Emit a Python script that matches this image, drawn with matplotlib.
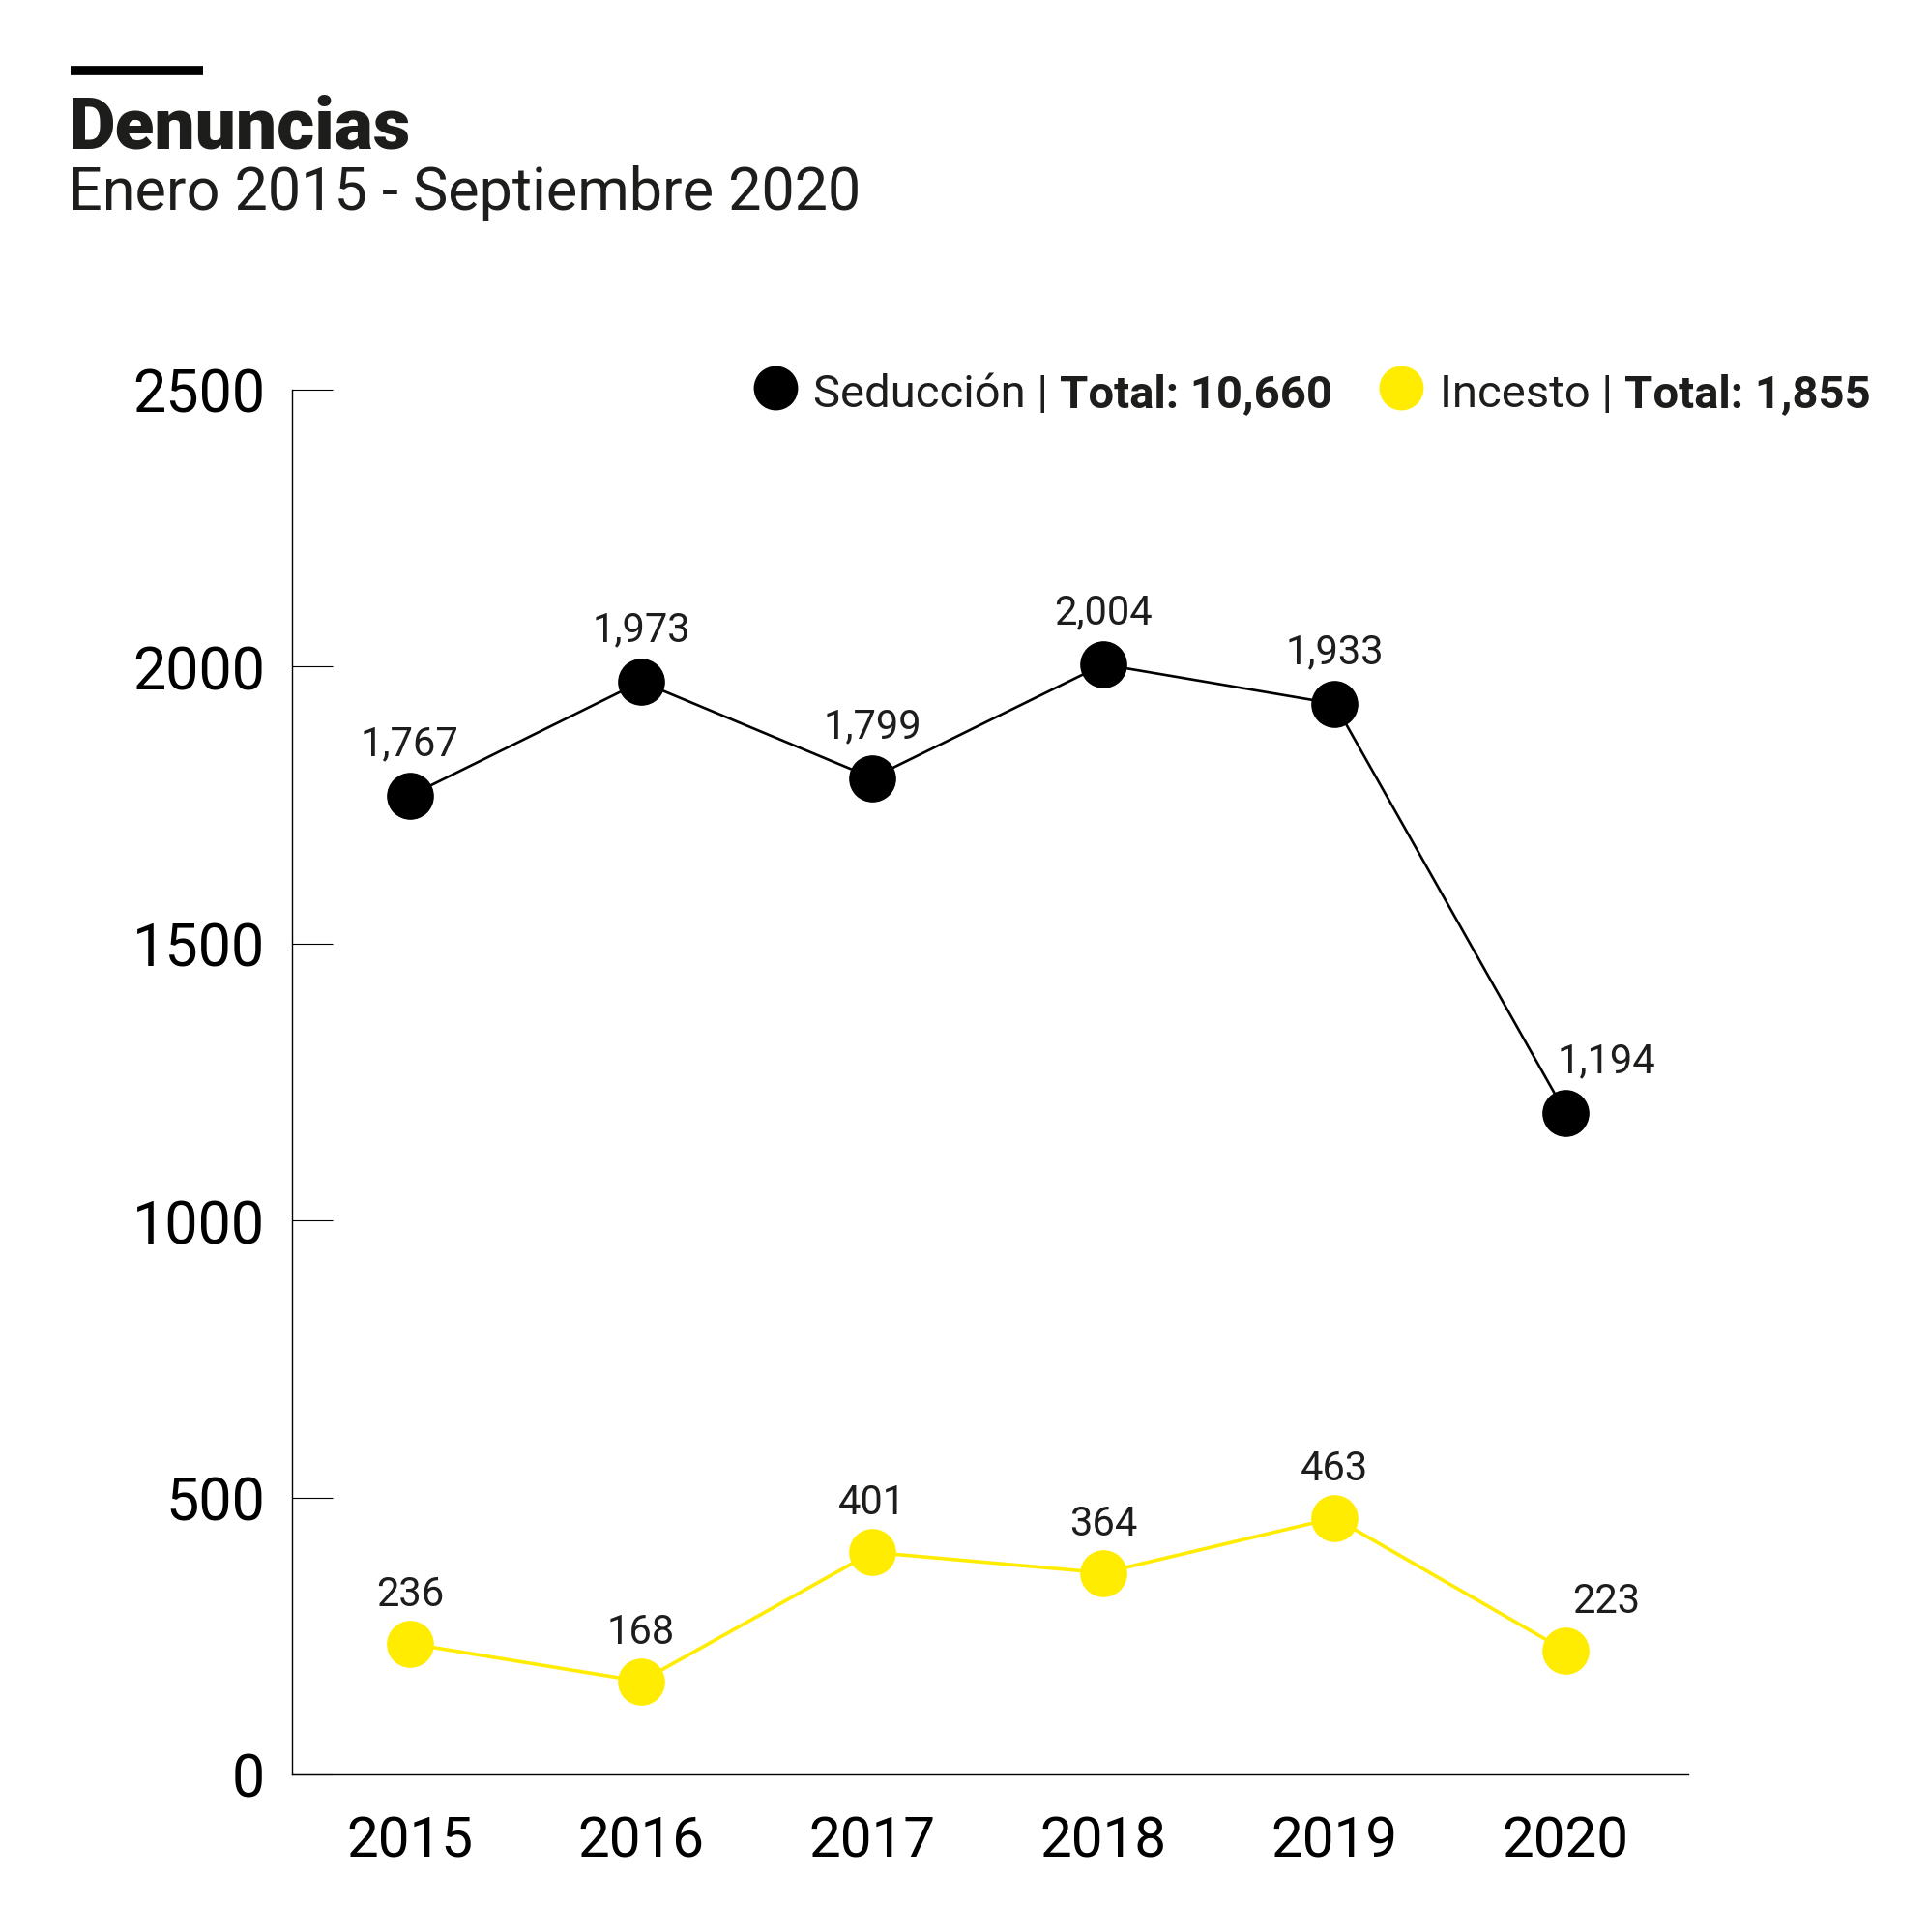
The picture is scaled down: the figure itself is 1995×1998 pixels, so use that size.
import matplotlib
matplotlib.use("Agg")
import matplotlib.pyplot as plt
from matplotlib.lines import Line2D
from matplotlib import font_manager

years = ["2015", "2016", "2017", "2018", "2019", "2020"]
seduccion = [1767, 1973, 1799, 2004, 1933, 1194]
incesto = [236, 168, 401, 364, 463, 223]
seduccion_labels = ["1,767", "1,973", "1,799", "2,004", "1,933", "1,194"]
incesto_labels = ["236", "168", "401", "364", "463", "223"]
y_ticks = [0, 500, 1000, 1500, 2000, 2500]

title = "Denuncias"
subtitle = "Enero 2015 - Septiembre 2020"
legend_items = [("Seducción | ", "Total: 10,660"), ("Incesto | ", "Total: 1,855")]

BLACK = "#000000"
YELLOW = "#FFEC00"
TXT = "#1d1d1b"

names = {f.name for f in font_manager.fontManager.ttflist}
FONT = "Roboto" if "Roboto" in names else "DejaVu Sans"
plt.rcParams["font.family"] = FONT

W, H = 1995, 1999
fig = plt.figure(figsize=(W / 100, H / 100), dpi=100)

def fx(px):
    return px / W

def fy(py):
    return 1 - py / H

ax = fig.add_axes([fx(302), fy(1836), fx(1746) - fx(302), fy(404) - fy(1836)])
x = list(range(len(years)))

ax.plot(x, seduccion, color=BLACK, lw=1.9, marker="o", ms=34, mfc=BLACK, mec=BLACK, zorder=3)
ax.plot(x, incesto, color=YELLOW, lw=2.6, marker="o", ms=34, mfc=YELLOW, mec=YELLOW, zorder=3)

for i, (v, lab) in enumerate(zip(seduccion, seduccion_labels)):
    dx = 30 if i == len(x) - 1 else 0
    ax.annotate(lab, (i, v), xytext=(dx, 39), textcoords="offset points",
                ha="center", va="center", fontsize=30, color=TXT)
for i, (v, lab) in enumerate(zip(incesto, incesto_labels)):
    dx = 30 if i == len(x) - 1 else 0
    ax.annotate(lab, (i, v), xytext=(dx, 37), textcoords="offset points",
                ha="center", va="center", fontsize=30, color=TXT)

ax.set_xlim(-0.51, 5.53)
ax.set_ylim(0, 2500)
ax.set_yticks(y_ticks)
ax.set_yticklabels([str(t) for t in y_ticks])
ax.set_xticks(x)
ax.set_xticklabels(years)
ax.tick_params(axis="y", direction="in", length=30, width=0.8, pad=20,
               labelsize=44, labelcolor=BLACK)
ax.tick_params(axis="x", length=0, pad=30, labelsize=42, labelcolor=BLACK)
for s in ["top", "right"]:
    ax.spines[s].set_visible(False)
for s in ["left", "bottom"]:
    ax.spines[s].set_linewidth(1.0)
    ax.spines[s].set_color(BLACK)

# Header
fig.add_artist(Line2D([fx(73), fx(210)], [fy(74), fy(74)], color=BLACK, lw=7,
                      solid_capstyle="butt", transform=fig.transFigure))
fig.text(fx(71), fy(153), title, fontsize=54, fontweight="black", color=TXT, va="baseline")
fig.text(fx(71), fy(217), subtitle, fontsize=44, color=TXT, va="baseline")

# Legend
fig.canvas.draw()
renderer = fig.canvas.get_renderer()
legend_pos = [(802, 841, BLACK), (1449, 1489, YELLOW)]
for (reg, bold), (cx, tx, col) in zip(legend_items, legend_pos):
    fig.add_artist(Line2D([fx(cx)], [fy(402)], marker="o", ms=32, mfc=col, mec=col,
                          ls="none", transform=fig.transFigure))
    t1 = fig.text(fx(tx), fy(421), reg, fontsize=34, color=TXT, va="baseline")
    bb = t1.get_window_extent(renderer)
    fig.text(bb.x1 / W, fy(421), bold, fontsize=34, fontweight="bold", color=TXT, va="baseline")

fig.savefig("out.png", dpi=100, facecolor="white")
